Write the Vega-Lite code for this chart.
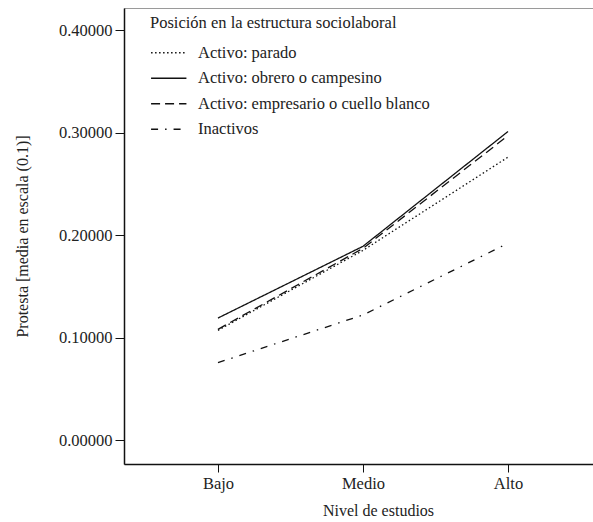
{
  "$schema": "https://vega.github.io/schema/vega-lite/v6.json",
  "width": 478,
  "height": 456,
  "autosize": {"type": "none"},
  "padding": {"left": 124, "top": 8, "right": 0, "bottom": 58},
  "background": "white",
  "config": {
    "font": "Liberation Serif",
    "view": {"stroke": "#9a9a9a", "strokeWidth": 1},
    "axis": {
      "grid": false,
      "domainColor": "#111",
      "domainWidth": 1.5,
      "tickColor": "#111",
      "labelColor": "#222",
      "titleColor": "#222",
      "labelFont": "Liberation Serif",
      "titleFont": "Liberation Serif",
      "labelFontSize": 16.5,
      "titleFontSize": 16,
      "titleFontWeight": "normal"
    },
    "legend": {
      "labelFont": "Liberation Serif",
      "titleFont": "Liberation Serif",
      "labelFontSize": 16.5,
      "titleFontSize": 16.5,
      "titleFontWeight": "normal",
      "labelColor": "#222",
      "titleColor": "#222",
      "labelLimit": 400,
      "titleLimit": 400
    }
  },
  "data": {
    "values": [
      {"estudios": "Bajo", "posicion": "Activo: parado", "protesta": 0.107},
      {"estudios": "Medio", "posicion": "Activo: parado", "protesta": 0.185},
      {"estudios": "Alto", "posicion": "Activo: parado", "protesta": 0.276},
      {"estudios": "Bajo", "posicion": "Activo: obrero o campesino", "protesta": 0.119},
      {"estudios": "Medio", "posicion": "Activo: obrero o campesino", "protesta": 0.189},
      {"estudios": "Alto", "posicion": "Activo: obrero o campesino", "protesta": 0.301},
      {"estudios": "Bajo", "posicion": "Activo: empresario o cuello blanco", "protesta": 0.108},
      {"estudios": "Medio", "posicion": "Activo: empresario o cuello blanco", "protesta": 0.187},
      {"estudios": "Alto", "posicion": "Activo: empresario o cuello blanco", "protesta": 0.297},
      {"estudios": "Bajo", "posicion": "Inactivos", "protesta": 0.0755},
      {"estudios": "Medio", "posicion": "Inactivos", "protesta": 0.122},
      {"estudios": "Alto", "posicion": "Inactivos", "protesta": 0.192}
    ]
  },
  "mark": {"type": "line", "color": "#111", "strokeWidth": 1.3, "clip": true},
  "encoding": {
    "x": {
      "field": "estudios",
      "type": "ordinal",
      "sort": ["Bajo", "Medio", "Alto"],
      "scale": {"type": "point", "padding": 0.648},
      "axis": {
        "title": "Nivel de estudios",
        "labelAngle": 0,
        "tickSize": 8,
        "labelPadding": 3,
        "titlePadding": 11,
        "titleX": 254
      }
    },
    "y": {
      "field": "protesta",
      "type": "quantitative",
      "scale": {"domain": [-0.0234, 0.4215], "nice": false, "zero": false},
      "axis": {
        "title": "Protesta [media en escala (0.1)]",
        "values": [0, 0.1, 0.2, 0.3, 0.4],
        "format": ".5f",
        "tickSize": 9,
        "labelPadding": 3,
        "titlePadding": 28
      }
    },
    "strokeDash": {
      "field": "posicion",
      "type": "nominal",
      "scale": {
        "domain": ["Activo: parado", "Activo: obrero o campesino", "Activo: empresario o cuello blanco", "Inactivos"],
        "range": [[1.5, 2.5], [1, 0], [9, 5], [7, 7, 1.5, 7]]
      },
      "legend": {
        "title": "Posición en la estructura sociolaboral",
        "orient": "none",
        "legendX": 26,
        "legendY": 7,
        "padding": 0,
        "symbolType": "M-2.5,0H2.5",
        "symbolSize": 200,
        "symbolOffset": 10.5,
        "symbolStrokeColor": "#111",
        "symbolStrokeWidth": 1.3,
        "rowPadding": 8.5,
        "titlePadding": 13,
        "labelOffset": 21,
        "fillColor": "white"
      }
    }
  }
}
